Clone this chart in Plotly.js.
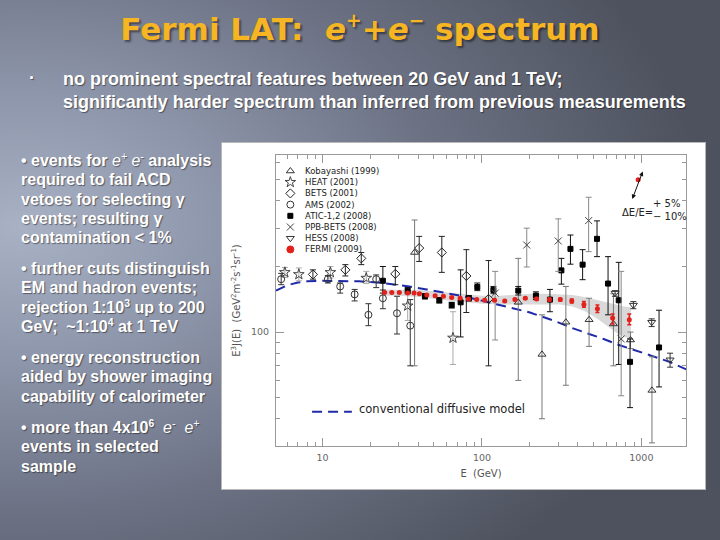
<!DOCTYPE html>
<html><head><meta charset="utf-8">
<script src="https://cdn.plot.ly/plotly-3.0.1.min.js"></script>
<style>
html,body{margin:0;padding:0;width:720px;height:540px;overflow:hidden;}
body{position:relative;background:radial-gradient(ellipse 95% 85% at 3% 42%, #a9b1c5 0%, #8d95aa 30%, #6c7284 62%, #4e525e 100%);font-family:"Liberation Sans",Arial,sans-serif;}
#title{position:absolute;left:0;top:11px;width:720px;text-align:center;font-family:"DejaVu Sans",sans-serif;font-weight:bold;font-size:31px;color:#f6b522;text-shadow:2px 2px 2px rgba(0,0,0,.45);white-space:nowrap;}
#title i{font-style:italic;font-weight:bold;}
#title sup{font-size:60%;vertical-align:0.7em;line-height:0;}
.t{position:absolute;color:#fff;font-weight:bold;text-shadow:1px 1px 1px rgba(0,0,0,.45);white-space:nowrap;}
.t sup{font-size:65%;vertical-align:0.55em;line-height:0;}
.top{font-size:19px;line-height:23px;transform:scaleX(0.945);transform-origin:0 0;}
.left{font-size:16px;line-height:19.3px;}
.e{font-weight:normal;font-style:italic;}
#chart{position:absolute;left:222px;top:143px;width:483px;height:346px;background:#fff;box-shadow:0 0 0 1px #b8b8b8;}
</style></head>
<body>
<div id="title">Fermi LAT:&nbsp; <i>e</i><sup>+</sup>+<i>e</i><sup>&minus;</sup> spectrum</div>
<div class="t top" style="left:29px;top:66px;">&middot;</div>
<div class="t top" style="left:63px;top:67px;">no prominent spectral features between 20 GeV and 1 TeV;<br>significantly harder spectrum than inferred from previous measurements</div>

<div class="t left" style="left:21px;top:151px;">&bull; events for <span class="e">e<sup>+</sup></span> <span class="e">e<sup>-</sup></span> analysis<br>required to fail ACD<br>vetoes for selecting &gamma;<br>events; resulting &gamma;<br>contamination &lt; 1%</div>
<div class="t left" style="left:21px;top:259px;">&bull; further cuts distinguish<br>EM and hadron events;<br>rejection 1:10<sup>3</sup> up to 200<br>GeV;&nbsp; ~1:10<sup>4</sup> at 1 TeV</div>
<div class="t left" style="left:21px;top:348px;">&bull; energy reconstruction<br>aided by shower imaging<br>capability of calorimeter</div>
<div class="t left" style="left:21px;top:418px;">&bull; more than 4x10<sup>6</sup>&nbsp; <span class="e">e<sup>-</sup></span>&nbsp; <span class="e">e<sup>+</sup></span><br>events in selected<br>sample</div>

<div id="chart"></div>
<script>
// ---- data (E in GeV, E^3 J(E) in GeV^2 m^-2 s^-1 sr^-1) ----
const modelE = [5.1, 6, 7, 8, 10, 13, 17, 22, 28, 35, 45, 60, 80, 110, 150, 200, 290, 360, 470, 580, 700, 900, 1150, 1500, 1950];
const modelF = [155, 164, 169, 171, 172, 172, 171, 169, 166, 162, 157, 151, 145, 137, 130, 123, 112, 105, 98, 93, 88, 83, 78, 73, 67];

const bandE  = [23.5, 30, 40, 50, 65, 80, 100, 130, 160, 200, 250, 310, 370, 440, 530, 620, 700, 780, 860];
const bandHi = [157, 157, 156, 154, 151, 149, 147, 147, 149, 150, 150, 149, 148, 145, 140, 136, 133, 131, 130];
const bandLo = [147, 147, 145, 142, 139, 137, 135, 134, 134, 135, 135, 134, 131, 125, 115, 106, 99, 95, 93];

const kobE  = [37.8, 169, 238, 336, 470, 668, 855, 1165];
const kobF  = [232, 137, 79, 111, 114, 109, 92, 54];
const kobHi = [327, 218, 120, 162, 143, 150, 100, 77];
const kobLo = [70, 60, 40, 57, 86, 70, 84, 31];

const heatE  = [5.8, 7.1, 11.2, 18.8, 34.2, 65.8];
const heatF  = [188, 184, 188, 177, 132, 94];
const heatHi = [198, 197, 200, 190, 151, 124];
const heatLo = [178, 172, 177, 167, 113, 71];

const betsE  = [8.7, 13.9, 17.5, 28.6, 40.4, 56, 79.8, 110];
const betsF  = [184, 193, 218, 185, 243, 232, 181, 142];
const betsHi = [193, 204, 232, 200, 275, 275, 239, 213];
const betsLo = [175, 181, 204, 165, 211, 188, 123, 70];

const amsE  = [5.5, 10.8, 12.9, 15.9, 19.4, 21.7, 23.9, 29.3, 35.5];
const amsF  = [175, 175, 162, 149, 120, 175, 143, 122, 107];
const amsHi = [186, 182, 168, 157, 135, 183, 156, 146, 141];
const amsLo = [165, 168, 151, 139, 107, 160, 128, 98, 70];

const aticE  = [23.9, 34.2, 43.9, 54, 64.6, 73.5, 82.8, 93.5, 118, 169, 218, 267, 315, 359, 428, 527, 618, 721, 849, 1291];
const aticF  = [172, 155, 146, 140, 133, 137, 143, 161, 156, 155, 147, 141, 192, 241, 204, 268, 167, 140, 73, 85];
const aticHi = [200, 160, 150, 144, 137, 193, 147, 168, 162, 162, 153, 157, 218, 279, 239, 324, 222, 209, 93, 126];
const aticLo = [151, 150, 142, 136, 129, 95, 139, 155, 150, 148, 141, 124, 166, 205, 174, 222, 120, 71, 45, 56];

const ppbE  = [121, 191, 301, 467, 747];
const ppbF  = [151, 251, 262, 325, 93];
const ppbHi = [190, 300, 331, 416, 190];
const ppbLo = [92, 199, 190, 234, 51];

const hessE  = [684, 891, 1161, 1514];
const hessF  = [151, 133, 111, 74.6];
const hessHi = [155, 138, 115, 80];
const hessLo = [146, 128, 106, 69];

const fermiE  = [24.5, 27.2, 30.3, 34.2, 37.5, 40.5, 45.1, 50.8, 57.3, 64.6, 73, 82.3, 92.8, 104, 120, 139, 161, 187, 220, 265, 310, 366, 436, 530, 660, 840];
const fermiF  = [152, 152, 152, 151, 151, 150, 148, 147, 146, 144, 143, 142, 141, 140, 140, 139, 141, 143, 142, 141, 141, 139, 134, 128, 116, 114];
const fermiUp = [1, 1, 1, 1, 1, 1, 1, 1, 1, 1, 1, 1, 1, 1, 1, 1.5, 1.5, 1.5, 2, 2, 2, 3, 4, 5, 5, 7];
const fermiDn = [1, 1, 1, 1, 1, 1, 1, 1, 1, 1, 1, 1, 1, 1, 1, 1.5, 1.5, 1.5, 2, 2, 2, 3, 4, 5, 7, 6];

const scaleE = [955];
const scaleF = [500];

const legendLabels = ['Kobayashi (1999)', 'HEAT (2001)', 'BETS (2001)', 'AMS (2002)', 'ATIC-1,2 (2008)', 'PPB-BETS (2008)', 'HESS (2008)', 'FERMI (2009)'];
const xTickVals = [10, 100, 1000];
const xTickText = ['10', '100', '1000'];
const yTickVals = [100];
const yTickText = ['100'];
const xMinorVals = [6, 7, 8, 9, 20, 30, 40, 50, 60, 70, 80, 90, 200, 300, 400, 500, 600, 700, 800, 900];
const yMinorVals = [40, 50, 60, 70, 80, 90, 200, 300, 400, 500, 600];

// ---- styling ----
const FONT = 'DejaVu Sans, sans-serif';
function bars(f, hi, lo, color) {
  return {type: 'data', symmetric: false,
    array: hi.map((h, i) => h - f[i]), arrayminus: f.map((v, i) => v - lo[i]),
    color: color, thickness: 1, width: 3};
}
const styles = [
  {sym: 'triangle-up-open', size: 7, color: '#333', bar: '#777'},
  {sym: 'star-open', size: 8, color: '#444', bar: '#aaa'},
  {sym: 'diamond-open', size: 7, color: '#222', bar: '#222'},
  {sym: 'circle-open', size: 7, color: '#333', bar: '#333'},
  {sym: 'square', size: 5, color: '#000', bar: '#111'},
  {sym: 'x-thin-open', size: 7, color: '#444', bar: '#888'},
  {sym: 'triangle-down-open', size: 7, color: '#333', bar: '#333'},
  {sym: 'circle', size: 6, color: '#e3211c', bar: '#e3211c'}
];
const sets = [
  [kobE, kobF, kobHi, kobLo], [heatE, heatF, heatHi, heatLo], [betsE, betsF, betsHi, betsLo],
  [amsE, amsF, amsHi, amsLo], [aticE, aticF, aticHi, aticLo], [ppbE, ppbF, ppbHi, ppbLo],
  [hessE, hessF, hessHi, hessLo]
];

const traces = [];
traces.push({x: bandE, y: bandLo, mode: 'lines', line: {width: 0}, hoverinfo: 'skip', showlegend: false});
traces.push({x: bandE, y: bandHi, mode: 'lines', line: {width: 0}, fill: 'tonexty', fillcolor: '#d9d9d9', showlegend: false});
traces.push({x: modelE, y: modelF, mode: 'lines', line: {color: '#1f2aa8', width: 2, dash: '10px,6px'}, showlegend: false});
sets.forEach((s, i) => {
  const st = styles[i];
  traces.push({x: s[0], y: s[1], mode: 'markers', name: legendLabels[i], showlegend: false,
    marker: {symbol: st.sym, size: st.size, color: st.color, line: {color: st.color, width: 1}},
    error_y: bars(s[1], s[2], s[3], st.bar)});
});
traces.push({x: fermiE, y: fermiF, mode: 'markers', name: legendLabels[7], showlegend: false,
  marker: {symbol: 'circle', size: 5, color: '#e3211c'},
  error_y: {type: 'data', symmetric: false, array: fermiUp, arrayminus: fermiDn, color: '#e3211c', thickness: 1.5, width: 2}});
traces.push({x: scaleE, y: scaleF, mode: 'markers', showlegend: false, marker: {symbol: 'circle', size: 5, color: '#e3211c'}});

// legend keys on an overlay axis
const legX = 0.035, legTop = 0.945, legStep = 0.0385;
const annotations = [];
legendLabels.forEach((lab, i) => {
  const st = styles[i];
  traces.push({x: [legX], y: [legTop - i * legStep], xaxis: 'x2', yaxis: 'y2', mode: 'markers', showlegend: false,
    marker: {symbol: st.sym, size: i === 7 ? 7 : st.size, color: st.color, line: {color: st.color, width: 1}}});
  annotations.push({xref: 'paper', yref: 'paper', x: 0.066, y: legTop - i * legStep, xanchor: 'left', yanchor: 'middle',
    text: lab, showarrow: false, font: {family: FONT, size: 8.5, color: '#222'}});
});
annotations.push({xref: 'paper', yref: 'paper', x: 0.198, y: 0.128, xanchor: 'left', yanchor: 'middle',
  text: 'conventional diffusive model', showarrow: false, font: {family: FONT, size: 11.5, color: '#222'}});
annotations.push({xref: 'x', yref: 'y', x: Math.log10(1020), y: Math.log10(546), ax: -11, ay: 29, text: '',
  showarrow: true, arrowside: 'end+start', arrowhead: 2, arrowsize: 0.9, arrowwidth: 1, arrowcolor: '#111'});
annotations.push({xref: 'paper', yref: 'paper', x: 0.882, y: 0.804, xanchor: 'center', yanchor: 'middle', text: '\u0394E/E=', showarrow: false,
  font: {family: FONT, size: 10, color: '#222'}});
annotations.push({xref: 'paper', yref: 'paper', x: 0.953, y: 0.834, xanchor: 'center', yanchor: 'middle', text: '+ 5%', showarrow: false,
  font: {family: FONT, size: 10, color: '#222'}});
annotations.push({xref: 'paper', yref: 'paper', x: 0.962, y: 0.787, xanchor: 'center', yanchor: 'middle', text: '\u2212 10%', showarrow: false,
  font: {family: FONT, size: 10, color: '#222'}});

const axisCommon = {showline: true, linecolor: '#999', linewidth: 1, mirror: 'allticks', ticks: 'inside',
  tickcolor: '#999', tickwidth: 1, ticklen: 8, showgrid: false, zeroline: false,
  tickfont: {family: FONT, size: 9.5, color: '#666'}};
const layout = {
  width: 483, height: 346,
  margin: {l: 54, r: 19, t: 12, b: 43},
  paper_bgcolor: 'rgba(0,0,0,0)', plot_bgcolor: 'rgba(0,0,0,0)',
  showlegend: false,
  xaxis: Object.assign({}, axisCommon, {type: 'log', range: [0.708, 3.28], tickmode: 'array',
    tickvals: xTickVals, ticktext: xTickText, ticklabelstandoff: 3,
    minor: {tickmode: 'array', tickvals: xMinorVals, ticks: 'inside', ticklen: 4, tickcolor: '#999'},
    title: {text: 'E  (GeV)', standoff: 7, font: {family: FONT, size: 10, color: '#555'}}}),
  yaxis: Object.assign({}, axisCommon, {type: 'log', range: [1.477, 2.813], tickmode: 'array',
    tickvals: yTickVals, ticktext: yTickText, ticklabelstandoff: 4,
    minor: {tickmode: 'array', tickvals: yMinorVals, ticks: 'inside', ticklen: 4, tickcolor: '#999'},
    title: {text: 'E<sup>3</sup>J(E)  (GeV<sup>2</sup>m<sup>-2</sup>s<sup>-1</sup>sr<sup>-1</sup>)', standoff: 8,
      font: {family: FONT, size: 10, color: '#555'}}}),
  xaxis2: {overlaying: 'x', anchor: 'y2', range: [0, 1], visible: false},
  yaxis2: {overlaying: 'y', anchor: 'x2', range: [0, 1], visible: false},
  shapes: [{type: 'line', xref: 'paper', yref: 'paper', x0: 0.088, x1: 0.185, y0: 0.118, y1: 0.118,
    line: {color: '#1f2aa8', width: 2, dash: '10px,6px'}}],
  annotations: annotations
};
Plotly.newPlot('chart', traces, layout, {displayModeBar: false, staticPlot: true});
</script>
</body></html>
